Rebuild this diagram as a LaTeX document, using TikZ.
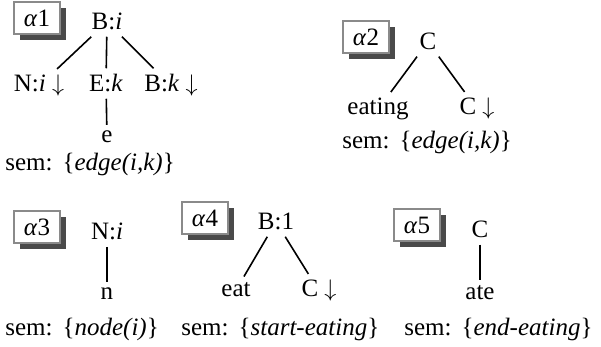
\documentclass[tikz,border=0pt]{standalone}
\usepackage{fontspec}
\setmainfont{Liberation Serif}
\usetikzlibrary{shadows}
\definecolor{tagframe}{HTML}{8A8A8A}
\definecolor{tagshade}{HTML}{4A4A4A}
\newcommand{\semgap}{\hspace{0.4em}}
\tikzset{
  tag/.style        = {draw=tagframe, line width=1pt, fill=white, minimum width=23pt,
                       minimum height=16pt, inner sep=0pt,
                       drop shadow={shadow xshift=3pt, shadow yshift=-3pt, fill=tagshade, opacity=1}},
  lab/.style        = {anchor=base, inner sep=3pt},
  sem/.style        = {anchor=base west, inner sep=0pt},
  branch/.style     = {line width=0.8pt},
  every node/.style = {font=\fontsize{12.5}{14}\selectfont},
}

\begin{document}
\begin{tikzpicture}[x=0.5pt, y=-0.5pt]
  \useasboundingbox (0,0) rectangle (601,347);
  % alpha 1
  \node[tag] (t1) at (37,18) {\textit{α}1};
  \node[lab] (r1) at (107,30) {B:\textit{i}};
  \node[lab] (n1) at (39,92) {N:\textit{i} $\downarrow$};
  \node[lab] (e1) at (106,92) {E:\textit{k}};
  \node[lab] (b1) at (171,92) {B:\textit{k} $\downarrow$};
  \node[lab] (w1) at (107,143) {e};
  \node[sem] (s1) at (5,171) {sem:\semgap\{\textit{edge(i,k)}\}};
  \draw[branch] (r1) -- (n1);
  \draw[branch] (r1) -- (e1);
  \draw[branch] (r1) -- (b1);
  \draw[branch] (e1) -- (w1);
  % alpha 2
  \node[tag] (t2) at (366,37) {\textit{α}2};
  \node[lab] (r2) at (428,50) {C};
  \node[lab] (w2) at (378,115) {eating};
  \node[lab] (c2) at (477,115) {C $\downarrow$};
  \node[sem] (s2) at (342,149) {sem:\semgap\{\textit{edge(i,k)}\}};
  \draw[branch] (r2) -- (w2);
  \draw[branch] (r2) -- (c2);
  % alpha 3
  \node[tag] (t3) at (37,227) {\textit{α}3};
  \node[lab] (r3) at (107,240) {N:\textit{i}};
  \node[lab] (w3) at (107,300) {n};
  \node[sem] (s3) at (5,336) {sem:\semgap\{\textit{node(i)}\}};
  \draw[branch] (r3) -- (w3);
  % alpha 4
  \node[tag] (t4) at (205,218) {\textit{α}4};
  \node[lab] (r4) at (276,230) {B:1};
  \node[lab] (w4) at (236,297) {eat};
  \node[lab] (c4) at (319,297) {C $\downarrow$};
  \node[sem] (s4) at (181,336) {sem:\semgap\{\textit{start-eating}\}};
  \draw[branch] (r4) -- (w4);
  \draw[branch] (r4) -- (c4);
  % alpha 5
  \node[tag] (t5) at (417,225) {\textit{α}5};
  \node[lab] (r5) at (480,238) {C};
  \node[lab] (w5) at (480,300) {ate};
  \node[sem] (s5) at (404,336) {sem:\semgap\{\textit{end-eating}\}};
  \draw[branch] (r5) -- (w5);
\end{tikzpicture}
\end{document}
